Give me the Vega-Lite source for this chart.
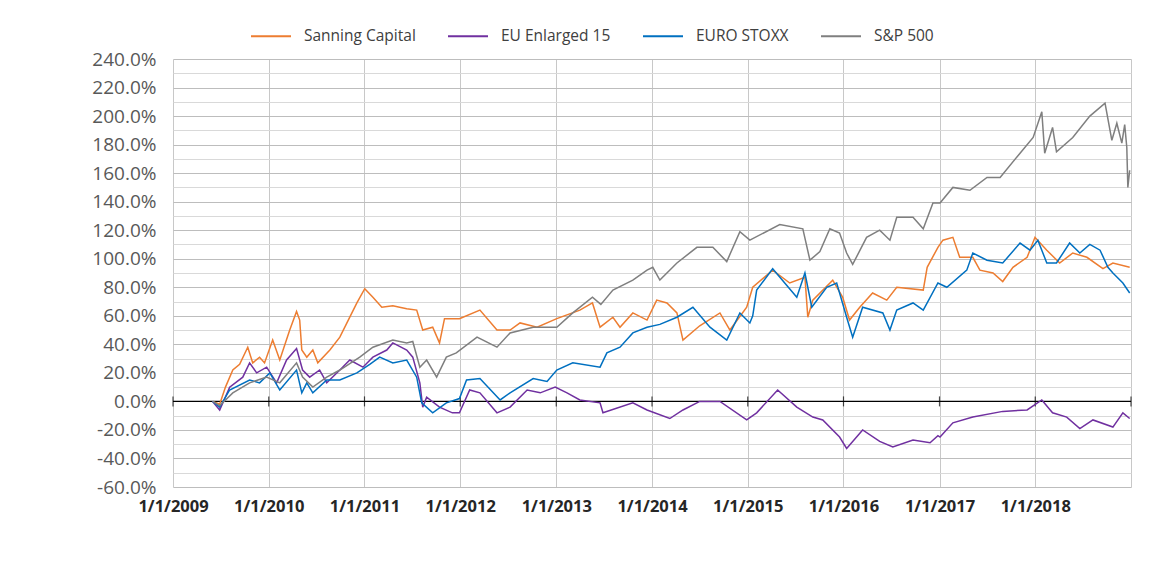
{
  "$schema": "https://vega.github.io/schema/vega-lite/v6.json",
  "width": 958,
  "height": 428,
  "autosize": {"type": "none"},
  "padding": {"left": 173, "top": 59, "right": 31, "bottom": 86},
  "background": "white",
  "config": {
    "view": {"stroke": null},
    "font": "Open Sans"
  },
  "layer": [
    {
      "data": {"values": [{"value": 0}]},
      "mark": {"type": "rule", "color": "#000000", "strokeWidth": 1.2},
      "encoding": {
        "y": {
          "field": "value",
          "type": "quantitative",
          "title": null,
          "scale": {"domain": [-60, 240], "nice": false, "zero": false},
          "axis": {
            "values": [-60, -50, -40, -30, -20, -10, 0, 10, 20, 30, 40, 50, 60, 70, 80, 90, 100, 110, 120, 130, 140, 150, 160, 170, 180, 190, 200, 210, 220, 230, 240],
            "labelExpr": "datum.value % 20 === 0 ? (datum.value < 0 ? '-' : '') + format(abs(datum.value), '.1f') + '%' : ''",
            "labelFont": "Open Sans",
            "labelFontSize": 19,
            "labelColor": "#595959",
            "labelPadding": 17,
            "labelOverlap": false,
            "labelFlush": false,
            "ticks": false,
            "domain": false,
            "grid": true,
            "gridColor": {"condition": {"test": "datum.value % 20 === 0", "value": "#BDBDBD"}, "value": "#D9D9D9"},
            "gridWidth": 1
          }
        }
      }
    },
    {
      "data": {"values": [
        {"date": "2009-01-01", "value": 0}, {"date": "2010-01-01", "value": 0}, {"date": "2011-01-01", "value": 0},
        {"date": "2012-01-01", "value": 0}, {"date": "2013-01-01", "value": 0}, {"date": "2014-01-01", "value": 0},
        {"date": "2015-01-01", "value": 0}, {"date": "2016-01-01", "value": 0}, {"date": "2017-01-01", "value": 0},
        {"date": "2018-01-01", "value": 0}, {"date": "2019-01-01", "value": 0}
      ]},
      "mark": {"type": "tick", "orient": "vertical", "color": "#000000", "size": 10, "thickness": 1.2},
      "encoding": {
        "x": {
          "field": "date",
          "type": "temporal",
          "title": null,
          "scale": {"type": "utc", "domain": [{"year": 2009, "month": 1, "date": 1, "utc": true}, {"year": 2019, "month": 1, "date": 1, "utc": true}], "nice": false},
          "axis": {
            "values": [
              {"year": 2009, "month": 1, "date": 1, "utc": true}, {"year": 2010, "month": 1, "date": 1, "utc": true},
              {"year": 2011, "month": 1, "date": 1, "utc": true}, {"year": 2012, "month": 1, "date": 1, "utc": true},
              {"year": 2013, "month": 1, "date": 1, "utc": true}, {"year": 2014, "month": 1, "date": 1, "utc": true},
              {"year": 2015, "month": 1, "date": 1, "utc": true}, {"year": 2016, "month": 1, "date": 1, "utc": true},
              {"year": 2017, "month": 1, "date": 1, "utc": true}, {"year": 2018, "month": 1, "date": 1, "utc": true},
              {"year": 2019, "month": 1, "date": 1, "utc": true}
            ],
            "labelExpr": "utcyear(datum.value) >= 2019 ? '' : utcFormat(datum.value, '%-m/%-d/%Y')",
            "labelFont": "Open Sans",
            "labelFontSize": 16.5,
            "labelFontWeight": "bold",
            "labelColor": "#262626",
            "labelPadding": 11,
            "labelAlign": "center",
            "labelOverlap": false,
            "labelFlush": false,
            "ticks": false,
            "domain": false,
            "grid": true,
            "gridColor": "#C8C8C8",
            "gridWidth": 1
          }
        },
        "y": {
          "field": "value",
          "type": "quantitative",
          "title": null,
          "scale": {"domain": [-60, 240], "nice": false, "zero": false},
          "axis": {
            "values": [-60, -50, -40, -30, -20, -10, 0, 10, 20, 30, 40, 50, 60, 70, 80, 90, 100, 110, 120, 130, 140, 150, 160, 170, 180, 190, 200, 210, 220, 230, 240],
            "labelExpr": "datum.value % 20 === 0 ? (datum.value < 0 ? '-' : '') + format(abs(datum.value), '.1f') + '%' : ''",
            "labelFont": "Open Sans",
            "labelFontSize": 19,
            "labelColor": "#595959",
            "labelPadding": 17,
            "labelOverlap": false,
            "labelFlush": false,
            "ticks": false,
            "domain": false,
            "grid": true,
            "gridColor": {"condition": {"test": "datum.value % 20 === 0", "value": "#BDBDBD"}, "value": "#D9D9D9"},
            "gridWidth": 1
          }
        }
      }
    },
    {
      "data": {"values": [
        {"date": "2009-06-01", "series": "Sanning Capital", "value": 0},
        {"date": "2009-06-28", "series": "Sanning Capital", "value": -2},
        {"date": "2009-07-20", "series": "Sanning Capital", "value": 10},
        {"date": "2009-08-17", "series": "Sanning Capital", "value": 22},
        {"date": "2009-09-12", "series": "Sanning Capital", "value": 26},
        {"date": "2009-10-13", "series": "Sanning Capital", "value": 38},
        {"date": "2009-11-01", "series": "Sanning Capital", "value": 27},
        {"date": "2009-11-27", "series": "Sanning Capital", "value": 31},
        {"date": "2009-12-16", "series": "Sanning Capital", "value": 27},
        {"date": "2010-01-16", "series": "Sanning Capital", "value": 43},
        {"date": "2010-02-12", "series": "Sanning Capital", "value": 29},
        {"date": "2010-03-22", "series": "Sanning Capital", "value": 50},
        {"date": "2010-04-17", "series": "Sanning Capital", "value": 63},
        {"date": "2010-04-29", "series": "Sanning Capital", "value": 57},
        {"date": "2010-05-07", "series": "Sanning Capital", "value": 36},
        {"date": "2010-05-26", "series": "Sanning Capital", "value": 31},
        {"date": "2010-06-18", "series": "Sanning Capital", "value": 36},
        {"date": "2010-07-07", "series": "Sanning Capital", "value": 27},
        {"date": "2010-08-22", "series": "Sanning Capital", "value": 36},
        {"date": "2010-09-29", "series": "Sanning Capital", "value": 45},
        {"date": "2010-10-26", "series": "Sanning Capital", "value": 55},
        {"date": "2010-12-03", "series": "Sanning Capital", "value": 69},
        {"date": "2011-01-02", "series": "Sanning Capital", "value": 79},
        {"date": "2011-02-02", "series": "Sanning Capital", "value": 73},
        {"date": "2011-03-08", "series": "Sanning Capital", "value": 66},
        {"date": "2011-04-19", "series": "Sanning Capital", "value": 67},
        {"date": "2011-05-15", "series": "Sanning Capital", "value": 66},
        {"date": "2011-06-11", "series": "Sanning Capital", "value": 65},
        {"date": "2011-07-19", "series": "Sanning Capital", "value": 64},
        {"date": "2011-08-11", "series": "Sanning Capital", "value": 50},
        {"date": "2011-09-18", "series": "Sanning Capital", "value": 52},
        {"date": "2011-10-14", "series": "Sanning Capital", "value": 41},
        {"date": "2011-11-02", "series": "Sanning Capital", "value": 58},
        {"date": "2011-12-29", "series": "Sanning Capital", "value": 58},
        {"date": "2012-03-16", "series": "Sanning Capital", "value": 64},
        {"date": "2012-05-20", "series": "Sanning Capital", "value": 50},
        {"date": "2012-07-09", "series": "Sanning Capital", "value": 50},
        {"date": "2012-08-16", "series": "Sanning Capital", "value": 55},
        {"date": "2012-10-20", "series": "Sanning Capital", "value": 52},
        {"date": "2013-01-03", "series": "Sanning Capital", "value": 58},
        {"date": "2013-04-01", "series": "Sanning Capital", "value": 64},
        {"date": "2013-05-19", "series": "Sanning Capital", "value": 69},
        {"date": "2013-06-17", "series": "Sanning Capital", "value": 52},
        {"date": "2013-08-05", "series": "Sanning Capital", "value": 59},
        {"date": "2013-09-01", "series": "Sanning Capital", "value": 52},
        {"date": "2013-10-20", "series": "Sanning Capital", "value": 62},
        {"date": "2013-12-13", "series": "Sanning Capital", "value": 57},
        {"date": "2014-01-19", "series": "Sanning Capital", "value": 71},
        {"date": "2014-02-27", "series": "Sanning Capital", "value": 69},
        {"date": "2014-04-06", "series": "Sanning Capital", "value": 62},
        {"date": "2014-04-29", "series": "Sanning Capital", "value": 43},
        {"date": "2014-07-02", "series": "Sanning Capital", "value": 53},
        {"date": "2014-09-17", "series": "Sanning Capital", "value": 62},
        {"date": "2014-10-25", "series": "Sanning Capital", "value": 50},
        {"date": "2014-12-28", "series": "Sanning Capital", "value": 66},
        {"date": "2015-01-20", "series": "Sanning Capital", "value": 80},
        {"date": "2015-04-06", "series": "Sanning Capital", "value": 92},
        {"date": "2015-06-10", "series": "Sanning Capital", "value": 83},
        {"date": "2015-08-07", "series": "Sanning Capital", "value": 87},
        {"date": "2015-08-18", "series": "Sanning Capital", "value": 59},
        {"date": "2015-09-06", "series": "Sanning Capital", "value": 71},
        {"date": "2015-11-21", "series": "Sanning Capital", "value": 85},
        {"date": "2015-12-29", "series": "Sanning Capital", "value": 73},
        {"date": "2016-01-24", "series": "Sanning Capital", "value": 57},
        {"date": "2016-03-03", "series": "Sanning Capital", "value": 66},
        {"date": "2016-04-21", "series": "Sanning Capital", "value": 76},
        {"date": "2016-06-14", "series": "Sanning Capital", "value": 71},
        {"date": "2016-07-22", "series": "Sanning Capital", "value": 80},
        {"date": "2016-10-31", "series": "Sanning Capital", "value": 78},
        {"date": "2016-11-15", "series": "Sanning Capital", "value": 94},
        {"date": "2016-12-26", "series": "Sanning Capital", "value": 108},
        {"date": "2017-01-14", "series": "Sanning Capital", "value": 113},
        {"date": "2017-02-21", "series": "Sanning Capital", "value": 115},
        {"date": "2017-03-19", "series": "Sanning Capital", "value": 101},
        {"date": "2017-05-08", "series": "Sanning Capital", "value": 101},
        {"date": "2017-06-04", "series": "Sanning Capital", "value": 92},
        {"date": "2017-07-24", "series": "Sanning Capital", "value": 90},
        {"date": "2017-08-30", "series": "Sanning Capital", "value": 84},
        {"date": "2017-10-08", "series": "Sanning Capital", "value": 94},
        {"date": "2017-12-01", "series": "Sanning Capital", "value": 101},
        {"date": "2017-12-31", "series": "Sanning Capital", "value": 115},
        {"date": "2018-02-14", "series": "Sanning Capital", "value": 106},
        {"date": "2018-04-04", "series": "Sanning Capital", "value": 97},
        {"date": "2018-05-24", "series": "Sanning Capital", "value": 104},
        {"date": "2018-07-17", "series": "Sanning Capital", "value": 101},
        {"date": "2018-09-16", "series": "Sanning Capital", "value": 93},
        {"date": "2018-10-24", "series": "Sanning Capital", "value": 97},
        {"date": "2018-12-27", "series": "Sanning Capital", "value": 94},

        {"date": "2009-06-01", "series": "EU Enlarged 15", "value": 0},
        {"date": "2009-06-28", "series": "EU Enlarged 15", "value": -6},
        {"date": "2009-08-05", "series": "EU Enlarged 15", "value": 10},
        {"date": "2009-09-24", "series": "EU Enlarged 15", "value": 17},
        {"date": "2009-10-20", "series": "EU Enlarged 15", "value": 27},
        {"date": "2009-11-16", "series": "EU Enlarged 15", "value": 20},
        {"date": "2009-12-24", "series": "EU Enlarged 15", "value": 24},
        {"date": "2010-01-31", "series": "EU Enlarged 15", "value": 13},
        {"date": "2010-03-10", "series": "EU Enlarged 15", "value": 29},
        {"date": "2010-04-17", "series": "EU Enlarged 15", "value": 37},
        {"date": "2010-05-10", "series": "EU Enlarged 15", "value": 22},
        {"date": "2010-06-06", "series": "EU Enlarged 15", "value": 17},
        {"date": "2010-07-14", "series": "EU Enlarged 15", "value": 22},
        {"date": "2010-08-10", "series": "EU Enlarged 15", "value": 13},
        {"date": "2010-09-29", "series": "EU Enlarged 15", "value": 22},
        {"date": "2010-11-06", "series": "EU Enlarged 15", "value": 29},
        {"date": "2010-12-26", "series": "EU Enlarged 15", "value": 24},
        {"date": "2011-02-02", "series": "EU Enlarged 15", "value": 31},
        {"date": "2011-03-27", "series": "EU Enlarged 15", "value": 36},
        {"date": "2011-04-19", "series": "EU Enlarged 15", "value": 41},
        {"date": "2011-06-11", "series": "EU Enlarged 15", "value": 36},
        {"date": "2011-07-04", "series": "EU Enlarged 15", "value": 31},
        {"date": "2011-07-31", "series": "EU Enlarged 15", "value": 13},
        {"date": "2011-08-11", "series": "EU Enlarged 15", "value": -4},
        {"date": "2011-08-26", "series": "EU Enlarged 15", "value": 3},
        {"date": "2011-10-14", "series": "EU Enlarged 15", "value": -4},
        {"date": "2011-12-02", "series": "EU Enlarged 15", "value": -8},
        {"date": "2011-12-29", "series": "EU Enlarged 15", "value": -8},
        {"date": "2012-02-06", "series": "EU Enlarged 15", "value": 8},
        {"date": "2012-03-16", "series": "EU Enlarged 15", "value": 6},
        {"date": "2012-05-20", "series": "EU Enlarged 15", "value": -8},
        {"date": "2012-07-09", "series": "EU Enlarged 15", "value": -4},
        {"date": "2012-09-12", "series": "EU Enlarged 15", "value": 8},
        {"date": "2012-11-01", "series": "EU Enlarged 15", "value": 6},
        {"date": "2012-12-28", "series": "EU Enlarged 15", "value": 10},
        {"date": "2013-02-11", "series": "EU Enlarged 15", "value": 6},
        {"date": "2013-04-01", "series": "EU Enlarged 15", "value": 1},
        {"date": "2013-06-17", "series": "EU Enlarged 15", "value": -1},
        {"date": "2013-06-28", "series": "EU Enlarged 15", "value": -8},
        {"date": "2013-10-20", "series": "EU Enlarged 15", "value": -1},
        {"date": "2013-12-13", "series": "EU Enlarged 15", "value": -6},
        {"date": "2014-03-10", "series": "EU Enlarged 15", "value": -12},
        {"date": "2014-04-29", "series": "EU Enlarged 15", "value": -6},
        {"date": "2014-07-02", "series": "EU Enlarged 15", "value": 0},
        {"date": "2014-09-17", "series": "EU Enlarged 15", "value": 0},
        {"date": "2014-12-28", "series": "EU Enlarged 15", "value": -13},
        {"date": "2015-02-04", "series": "EU Enlarged 15", "value": -8},
        {"date": "2015-04-25", "series": "EU Enlarged 15", "value": 8},
        {"date": "2015-07-07", "series": "EU Enlarged 15", "value": -4},
        {"date": "2015-09-06", "series": "EU Enlarged 15", "value": -11},
        {"date": "2015-10-14", "series": "EU Enlarged 15", "value": -13},
        {"date": "2015-12-17", "series": "EU Enlarged 15", "value": -25},
        {"date": "2016-01-13", "series": "EU Enlarged 15", "value": -33},
        {"date": "2016-03-14", "series": "EU Enlarged 15", "value": -20},
        {"date": "2016-05-18", "series": "EU Enlarged 15", "value": -28},
        {"date": "2016-07-07", "series": "EU Enlarged 15", "value": -32},
        {"date": "2016-09-22", "series": "EU Enlarged 15", "value": -27},
        {"date": "2016-11-26", "series": "EU Enlarged 15", "value": -29},
        {"date": "2016-12-26", "series": "EU Enlarged 15", "value": -24},
        {"date": "2017-01-03", "series": "EU Enlarged 15", "value": -25},
        {"date": "2017-02-21", "series": "EU Enlarged 15", "value": -15},
        {"date": "2017-05-08", "series": "EU Enlarged 15", "value": -11},
        {"date": "2017-08-30", "series": "EU Enlarged 15", "value": -7},
        {"date": "2017-12-01", "series": "EU Enlarged 15", "value": -6},
        {"date": "2018-01-26", "series": "EU Enlarged 15", "value": 1},
        {"date": "2018-03-08", "series": "EU Enlarged 15", "value": -8},
        {"date": "2018-05-01", "series": "EU Enlarged 15", "value": -11},
        {"date": "2018-06-20", "series": "EU Enlarged 15", "value": -19},
        {"date": "2018-08-09", "series": "EU Enlarged 15", "value": -13},
        {"date": "2018-10-24", "series": "EU Enlarged 15", "value": -18},
        {"date": "2018-12-01", "series": "EU Enlarged 15", "value": -8},
        {"date": "2018-12-27", "series": "EU Enlarged 15", "value": -12},

        {"date": "2009-06-01", "series": "EURO STOXX", "value": 0},
        {"date": "2009-06-28", "series": "EURO STOXX", "value": -4},
        {"date": "2009-08-05", "series": "EURO STOXX", "value": 8},
        {"date": "2009-10-20", "series": "EURO STOXX", "value": 15},
        {"date": "2009-11-27", "series": "EURO STOXX", "value": 13},
        {"date": "2010-01-05", "series": "EURO STOXX", "value": 20},
        {"date": "2010-02-12", "series": "EURO STOXX", "value": 8},
        {"date": "2010-04-17", "series": "EURO STOXX", "value": 22},
        {"date": "2010-05-07", "series": "EURO STOXX", "value": 6},
        {"date": "2010-05-26", "series": "EURO STOXX", "value": 13},
        {"date": "2010-06-18", "series": "EURO STOXX", "value": 6},
        {"date": "2010-08-10", "series": "EURO STOXX", "value": 15},
        {"date": "2010-09-29", "series": "EURO STOXX", "value": 15},
        {"date": "2010-12-03", "series": "EURO STOXX", "value": 20},
        {"date": "2011-01-21", "series": "EURO STOXX", "value": 26},
        {"date": "2011-02-28", "series": "EURO STOXX", "value": 31},
        {"date": "2011-04-19", "series": "EURO STOXX", "value": 27},
        {"date": "2011-06-11", "series": "EURO STOXX", "value": 29},
        {"date": "2011-07-19", "series": "EURO STOXX", "value": 17},
        {"date": "2011-08-07", "series": "EURO STOXX", "value": -1},
        {"date": "2011-09-18", "series": "EURO STOXX", "value": -8},
        {"date": "2011-11-09", "series": "EURO STOXX", "value": -1},
        {"date": "2011-12-29", "series": "EURO STOXX", "value": 2},
        {"date": "2012-01-25", "series": "EURO STOXX", "value": 15},
        {"date": "2012-03-16", "series": "EURO STOXX", "value": 16},
        {"date": "2012-06-01", "series": "EURO STOXX", "value": 1},
        {"date": "2012-07-09", "series": "EURO STOXX", "value": 6},
        {"date": "2012-10-05", "series": "EURO STOXX", "value": 16},
        {"date": "2012-11-27", "series": "EURO STOXX", "value": 14},
        {"date": "2013-01-03", "series": "EURO STOXX", "value": 22},
        {"date": "2013-03-05", "series": "EURO STOXX", "value": 27},
        {"date": "2013-06-17", "series": "EURO STOXX", "value": 24},
        {"date": "2013-07-13", "series": "EURO STOXX", "value": 34},
        {"date": "2013-09-01", "series": "EURO STOXX", "value": 38},
        {"date": "2013-10-20", "series": "EURO STOXX", "value": 48},
        {"date": "2013-12-13", "series": "EURO STOXX", "value": 52},
        {"date": "2014-01-31", "series": "EURO STOXX", "value": 54},
        {"date": "2014-04-06", "series": "EURO STOXX", "value": 59},
        {"date": "2014-06-06", "series": "EURO STOXX", "value": 66},
        {"date": "2014-08-10", "series": "EURO STOXX", "value": 52},
        {"date": "2014-10-13", "series": "EURO STOXX", "value": 43},
        {"date": "2014-12-02", "series": "EURO STOXX", "value": 62},
        {"date": "2015-01-09", "series": "EURO STOXX", "value": 55},
        {"date": "2015-01-20", "series": "EURO STOXX", "value": 60},
        {"date": "2015-02-04", "series": "EURO STOXX", "value": 78},
        {"date": "2015-04-06", "series": "EURO STOXX", "value": 93},
        {"date": "2015-07-07", "series": "EURO STOXX", "value": 73},
        {"date": "2015-08-07", "series": "EURO STOXX", "value": 90},
        {"date": "2015-09-02", "series": "EURO STOXX", "value": 66},
        {"date": "2015-10-29", "series": "EURO STOXX", "value": 80},
        {"date": "2015-12-06", "series": "EURO STOXX", "value": 83},
        {"date": "2016-01-13", "series": "EURO STOXX", "value": 59},
        {"date": "2016-02-05", "series": "EURO STOXX", "value": 45},
        {"date": "2016-03-14", "series": "EURO STOXX", "value": 66},
        {"date": "2016-05-30", "series": "EURO STOXX", "value": 62},
        {"date": "2016-06-26", "series": "EURO STOXX", "value": 50},
        {"date": "2016-07-22", "series": "EURO STOXX", "value": 64},
        {"date": "2016-09-22", "series": "EURO STOXX", "value": 69},
        {"date": "2016-10-31", "series": "EURO STOXX", "value": 64},
        {"date": "2016-11-15", "series": "EURO STOXX", "value": 69},
        {"date": "2016-12-26", "series": "EURO STOXX", "value": 83},
        {"date": "2017-01-29", "series": "EURO STOXX", "value": 80},
        {"date": "2017-04-15", "series": "EURO STOXX", "value": 92},
        {"date": "2017-05-08", "series": "EURO STOXX", "value": 104},
        {"date": "2017-07-01", "series": "EURO STOXX", "value": 99},
        {"date": "2017-08-30", "series": "EURO STOXX", "value": 97},
        {"date": "2017-11-04", "series": "EURO STOXX", "value": 111},
        {"date": "2017-12-12", "series": "EURO STOXX", "value": 106},
        {"date": "2018-01-11", "series": "EURO STOXX", "value": 113},
        {"date": "2018-02-14", "series": "EURO STOXX", "value": 97},
        {"date": "2018-03-23", "series": "EURO STOXX", "value": 97},
        {"date": "2018-05-12", "series": "EURO STOXX", "value": 111},
        {"date": "2018-06-20", "series": "EURO STOXX", "value": 104},
        {"date": "2018-07-28", "series": "EURO STOXX", "value": 110},
        {"date": "2018-09-05", "series": "EURO STOXX", "value": 106},
        {"date": "2018-10-05", "series": "EURO STOXX", "value": 94},
        {"date": "2018-10-24", "series": "EURO STOXX", "value": 90},
        {"date": "2018-12-01", "series": "EURO STOXX", "value": 83},
        {"date": "2018-12-27", "series": "EURO STOXX", "value": 76},

        {"date": "2009-06-01", "series": "S&P 500", "value": 0},
        {"date": "2009-06-28", "series": "S&P 500", "value": -3},
        {"date": "2009-08-17", "series": "S&P 500", "value": 6},
        {"date": "2009-10-20", "series": "S&P 500", "value": 13},
        {"date": "2009-12-24", "series": "S&P 500", "value": 17},
        {"date": "2010-02-12", "series": "S&P 500", "value": 13},
        {"date": "2010-04-17", "series": "S&P 500", "value": 27},
        {"date": "2010-05-10", "series": "S&P 500", "value": 17},
        {"date": "2010-06-18", "series": "S&P 500", "value": 10},
        {"date": "2010-08-10", "series": "S&P 500", "value": 17},
        {"date": "2010-09-29", "series": "S&P 500", "value": 22},
        {"date": "2010-12-14", "series": "S&P 500", "value": 31},
        {"date": "2011-02-02", "series": "S&P 500", "value": 38},
        {"date": "2011-04-19", "series": "S&P 500", "value": 43},
        {"date": "2011-06-11", "series": "S&P 500", "value": 41},
        {"date": "2011-07-04", "series": "S&P 500", "value": 42},
        {"date": "2011-07-31", "series": "S&P 500", "value": 24},
        {"date": "2011-08-26", "series": "S&P 500", "value": 29},
        {"date": "2011-10-03", "series": "S&P 500", "value": 17},
        {"date": "2011-11-09", "series": "S&P 500", "value": 31},
        {"date": "2011-12-17", "series": "S&P 500", "value": 34},
        {"date": "2012-03-05", "series": "S&P 500", "value": 45},
        {"date": "2012-05-20", "series": "S&P 500", "value": 38},
        {"date": "2012-07-09", "series": "S&P 500", "value": 48},
        {"date": "2012-10-05", "series": "S&P 500", "value": 52},
        {"date": "2013-01-03", "series": "S&P 500", "value": 52},
        {"date": "2013-03-05", "series": "S&P 500", "value": 62},
        {"date": "2013-05-19", "series": "S&P 500", "value": 73},
        {"date": "2013-06-20", "series": "S&P 500", "value": 68},
        {"date": "2013-08-05", "series": "S&P 500", "value": 78},
        {"date": "2013-10-20", "series": "S&P 500", "value": 85},
        {"date": "2013-12-13", "series": "S&P 500", "value": 92},
        {"date": "2014-01-04", "series": "S&P 500", "value": 94},
        {"date": "2014-01-31", "series": "S&P 500", "value": 85},
        {"date": "2014-04-06", "series": "S&P 500", "value": 97},
        {"date": "2014-06-21", "series": "S&P 500", "value": 108},
        {"date": "2014-08-21", "series": "S&P 500", "value": 108},
        {"date": "2014-10-13", "series": "S&P 500", "value": 98},
        {"date": "2014-12-02", "series": "S&P 500", "value": 119},
        {"date": "2015-01-09", "series": "S&P 500", "value": 113},
        {"date": "2015-05-03", "series": "S&P 500", "value": 124},
        {"date": "2015-07-30", "series": "S&P 500", "value": 121},
        {"date": "2015-08-26", "series": "S&P 500", "value": 99},
        {"date": "2015-10-03", "series": "S&P 500", "value": 105},
        {"date": "2015-11-10", "series": "S&P 500", "value": 121},
        {"date": "2015-12-17", "series": "S&P 500", "value": 118},
        {"date": "2016-01-13", "series": "S&P 500", "value": 104},
        {"date": "2016-02-05", "series": "S&P 500", "value": 96},
        {"date": "2016-03-29", "series": "S&P 500", "value": 115},
        {"date": "2016-05-18", "series": "S&P 500", "value": 120},
        {"date": "2016-06-26", "series": "S&P 500", "value": 113},
        {"date": "2016-07-22", "series": "S&P 500", "value": 129},
        {"date": "2016-09-22", "series": "S&P 500", "value": 129},
        {"date": "2016-10-31", "series": "S&P 500", "value": 121},
        {"date": "2016-12-07", "series": "S&P 500", "value": 139},
        {"date": "2017-01-03", "series": "S&P 500", "value": 139},
        {"date": "2017-02-21", "series": "S&P 500", "value": 150},
        {"date": "2017-04-27", "series": "S&P 500", "value": 148},
        {"date": "2017-07-01", "series": "S&P 500", "value": 157},
        {"date": "2017-08-20", "series": "S&P 500", "value": 157},
        {"date": "2017-11-04", "series": "S&P 500", "value": 174},
        {"date": "2017-12-24", "series": "S&P 500", "value": 185},
        {"date": "2018-01-26", "series": "S&P 500", "value": 203},
        {"date": "2018-02-06", "series": "S&P 500", "value": 174},
        {"date": "2018-03-08", "series": "S&P 500", "value": 192},
        {"date": "2018-03-23", "series": "S&P 500", "value": 175},
        {"date": "2018-05-24", "series": "S&P 500", "value": 185},
        {"date": "2018-07-28", "series": "S&P 500", "value": 200},
        {"date": "2018-09-24", "series": "S&P 500", "value": 209},
        {"date": "2018-10-20", "series": "S&P 500", "value": 183},
        {"date": "2018-11-08", "series": "S&P 500", "value": 195},
        {"date": "2018-11-27", "series": "S&P 500", "value": 181},
        {"date": "2018-12-08", "series": "S&P 500", "value": 194},
        {"date": "2018-12-16", "series": "S&P 500", "value": 178},
        {"date": "2018-12-20", "series": "S&P 500", "value": 150},
        {"date": "2018-12-27", "series": "S&P 500", "value": 162}
      ]},
      "mark": {"type": "line", "strokeWidth": 1.5},
      "encoding": {
        "x": {
          "field": "date",
          "type": "temporal",
          "title": null,
          "scale": {"type": "utc", "domain": [{"year": 2009, "month": 1, "date": 1, "utc": true}, {"year": 2019, "month": 1, "date": 1, "utc": true}], "nice": false},
          "axis": {
            "values": [
              {"year": 2009, "month": 1, "date": 1, "utc": true}, {"year": 2010, "month": 1, "date": 1, "utc": true},
              {"year": 2011, "month": 1, "date": 1, "utc": true}, {"year": 2012, "month": 1, "date": 1, "utc": true},
              {"year": 2013, "month": 1, "date": 1, "utc": true}, {"year": 2014, "month": 1, "date": 1, "utc": true},
              {"year": 2015, "month": 1, "date": 1, "utc": true}, {"year": 2016, "month": 1, "date": 1, "utc": true},
              {"year": 2017, "month": 1, "date": 1, "utc": true}, {"year": 2018, "month": 1, "date": 1, "utc": true},
              {"year": 2019, "month": 1, "date": 1, "utc": true}
            ],
            "labelExpr": "utcyear(datum.value) >= 2019 ? '' : utcFormat(datum.value, '%-m/%-d/%Y')",
            "labelFont": "Open Sans",
            "labelFontSize": 16.5,
            "labelFontWeight": "bold",
            "labelColor": "#262626",
            "labelPadding": 11,
            "labelAlign": "center",
            "labelOverlap": false,
            "labelFlush": false,
            "ticks": false,
            "domain": false,
            "grid": true,
            "gridColor": "#C8C8C8",
            "gridWidth": 1
          }
        },
        "y": {
          "field": "value",
          "type": "quantitative",
          "title": null,
          "scale": {"domain": [-60, 240], "nice": false, "zero": false},
          "axis": {
            "values": [-60, -50, -40, -30, -20, -10, 0, 10, 20, 30, 40, 50, 60, 70, 80, 90, 100, 110, 120, 130, 140, 150, 160, 170, 180, 190, 200, 210, 220, 230, 240],
            "labelExpr": "datum.value % 20 === 0 ? (datum.value < 0 ? '-' : '') + format(abs(datum.value), '.1f') + '%' : ''",
            "labelFont": "Open Sans",
            "labelFontSize": 19,
            "labelColor": "#595959",
            "labelPadding": 17,
            "labelOverlap": false,
            "labelFlush": false,
            "ticks": false,
            "domain": false,
            "grid": true,
            "gridColor": {"condition": {"test": "datum.value % 20 === 0", "value": "#BDBDBD"}, "value": "#D9D9D9"},
            "gridWidth": 1
          }
        },
        "color": {
          "field": "series",
          "type": "nominal",
          "scale": {
            "domain": ["Sanning Capital", "EU Enlarged 15", "EURO STOXX", "S&P 500"],
            "range": ["#ED7D31", "#7030A0", "#0070C0", "#7F7F7F"]
          },
          "legend": {
            "orient": "none",
            "legendX": 77,
            "legendY": -44,
            "direction": "horizontal",
            "title": null,
            "symbolType": "stroke",
            "symbolSize": 1600,
            "symbolStrokeWidth": 2,
            "labelFont": "Open Sans",
            "labelFontSize": 15.5,
            "labelColor": "#404040",
            "labelOffset": 12,
            "columnPadding": 28
          }
        }
      }
    }
  ]
}
